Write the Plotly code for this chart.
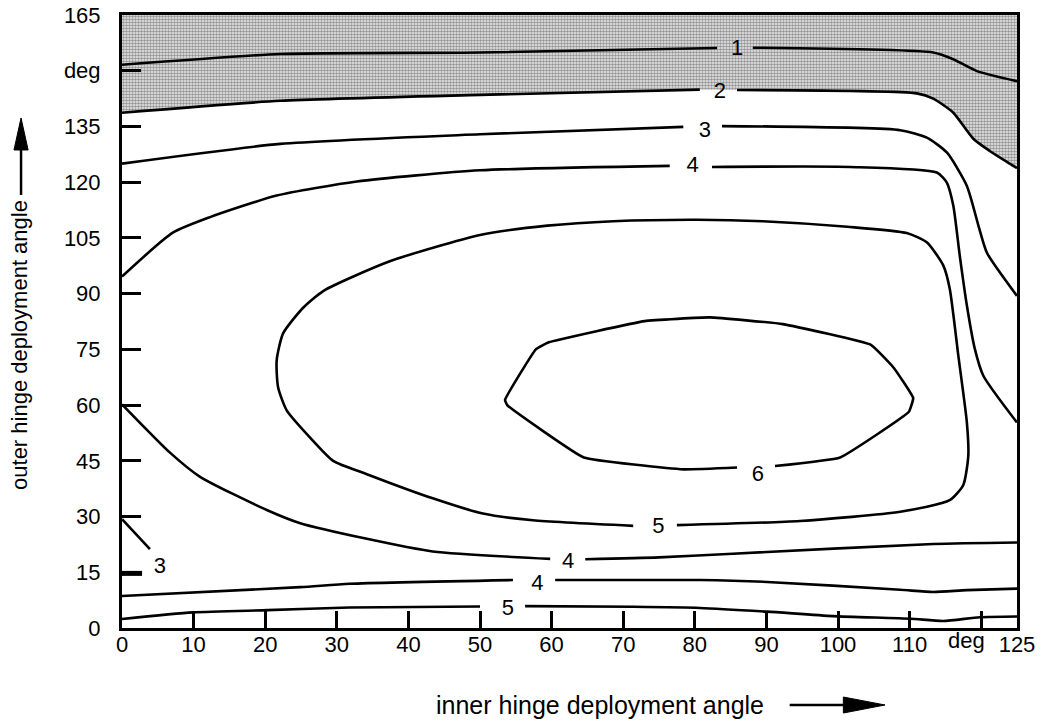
import plotly.graph_objects as go

# ---- data: contour lines (x = inner hinge angle, y = outer hinge angle, deg); None = gap for label
c1_x = [0, 22.1, 50, 83.1, None, 88.1, 113.3, 116.1, 119.4, 125]
c1_y = [151.6, 154.5, 154.9, 156.1, None, 156.2, 154.9, 153.1, 149.9, 147.2]

c2_x = [0, 22.1, 50, 80.7, None, 85.9, 111, 113.3, 116.1, 118.9, 121.2, 125]
c2_y = [138.7, 141.9, 143.5, 144.9, None, 144.8, 143.9, 142.5, 138.7, 131.7, 128.4, 123.8]

c3_x = [0, 22.1, 50, 78.4, None, 83.8, 108.7, 112.4, 115.2, 118, 119.7, 120.8, 125]
c3_y = [125, 130.3, 132.9, 134.9, None, 135.1, 134, 132, 128, 119, 107.7, 101, 89.4]

c4_upper_x = [0, 7.1, 12.3, 21.6, 32.8, 50, 76.5, None, 82.4, 101.7, 113.8, 115.2, 116.1, 117, 118, 119.1, 120.3, 125]
c4_upper_y = [94.6, 106.4, 110.6, 116.4, 120.2, 123.2, 124.4, None, 124.1, 124.1, 122.6, 119.9, 113.7, 100.3, 86.8, 75.2, 67.9, 55.3]

c5_loop_x = [77.5, 94.7, 108.7, 115.6, 117.5, 118.2, 118, 116.8, 115.6, 114.7, 112.4, 109.6, 101.3, 89.5, 80.3,
             68.6, 59.4, 50, 37.4, 28.1, 25.3, 22.5, 21.6, 21.8, 23, 26.3, 29.5, 34.2, 43.4, 50.4, 57.4, 71.4]
c5_loop_y = [27.7, 28.8, 31.3, 34.4, 38.5, 46.4, 55.3, 73.4, 91.4, 97.6, 103.8, 106.3, 108, 109.5, 109.9,
             109.5, 108.3, 105.8, 98.7, 90.7, 86.2, 79.3, 72, 64.8, 58.6, 51.2, 45, 41.4, 34.9, 30.8, 29, 27.5]

c6_loop_x = [91.2, 100.3, 109.9, 110.5, 107.8, 104.6, 92.3, 82.1, 73, 59.6, 57.8, 53.5, 53.8, 64.5, 78.4, 85.9]
c6_loop_y = [43.6, 45.9, 58.2, 61.9, 70.0, 76.2, 81.8, 83.6, 82.6, 76.9, 75.0, 61.4, 60.0, 45.9, 42.7, 43.2]

c4_mid_x = [0, 6.7, 10.9, 20.3, 24.9, 34.2, 43.4, 59.8, None, 64.7, 75, 85.3, 113.3, 125]
c4_mid_y = [60.2, 47.2, 40.7, 31.7, 28.2, 24, 20.6, 18.6, None, 18.5, 19.0, 20.0, 22.6, 23]

c4_low_x = [0, 24.9, 31.8, 54.6, None, 60.5, 80.7, 90.1, 108.7, 113.3, 118, 125]
c4_low_y = [8.6, 11, 11.9, 12.9, None, 12.9, 12.9, 12.4, 10.3, 9.7, 10.2, 10.6]

c5_low_x = [0, 9.9, 20.3, 31.8, 50, None, 56.3, 71.4, 80.7, 90.1, 99.3, 110.1, 114.7, 119.8, 125]
c5_low_y = [2.4, 4.2, 4.8, 5.5, 5.8, None, 5.9, 5.7, 5.4, 4.4, 3.2, 2.5, 1.9, 2.9, 3.1]

c3_short_x = [0, 3.9]
c3_short_y = [29.3, 21.2]

stub_x = [0, 2.8]
stub_y = [14.7, 14.7]

label_text = ["1", "2", "3", "4", "5", "6", "4", "4", "5", "3"]
label_x = [85.9, 83.5, 81.4, 79.7, 74.9, 88.8, 62.3, 58.0, 53.9, 5.3]
label_y = [155.8, 144.2, 133.6, 124.2, 27.0, 41.0, 17.7, 11.8, 4.9, 16.4]

x_tickvals = [0, 10, 20, 30, 40, 50, 60, 70, 80, 90, 100, 110, 120, 125]
x_ticktext = ["0", "10", "20", "30", "40", "50", "60", "70", "80", "90", "100", "110", "", "125"]
x_unit_label = "deg"
x_unit_pos = 117.9
y_tickvals = [0, 15, 30, 45, 60, 75, 90, 105, 120, 135, 150, 165]
y_ticktext = ["0", "15", "30", "45", "60", "75", "90", "105", "120", "135", "deg", "165"]

X_MAX, Y_MAX = 125, 165
FONT = "Liberation Sans, Arial, Helvetica, sans-serif"
LW = 2.6
TICK_FS = 22

fig = go.Figure()

# shaded region above contour 2
shade_x = [v for v in c2_x if v is not None] + [X_MAX, 0]
shade_y = [v for v in c2_y if v is not None] + [Y_MAX, Y_MAX]
fig.add_trace(go.Scatter(
    x=shade_x, y=shade_y, mode="lines", fill="toself", line=dict(width=0, shape="spline", smoothing=0.6),
    fillcolor="rgba(0,0,0,0)",
    fillpattern=dict(shape=".", size=3, solidity=0.55, fgcolor="#3c3c3c", bgcolor="#ececec"),
    hoverinfo="skip", showlegend=False))

smooth_lines = [(c1_x, c1_y), (c2_x, c2_y), (c3_x, c3_y), (c4_upper_x, c4_upper_y),
                (c5_loop_x, c5_loop_y), (c4_mid_x, c4_mid_y),
                (c4_low_x, c4_low_y), (c5_low_x, c5_low_y)]
for xs, ys in smooth_lines:
    fig.add_trace(go.Scatter(x=xs, y=ys, mode="lines",
                             line=dict(color="black", width=LW, shape="spline", smoothing=0.6),
                             connectgaps=False, showlegend=False, hoverinfo="skip"))

for xs, ys in [(c6_loop_x, c6_loop_y), (c3_short_x, c3_short_y)]:
    fig.add_trace(go.Scatter(x=xs, y=ys, mode="lines",
                             line=dict(color="black", width=LW, shape="spline", smoothing=0.3),
                             connectgaps=False, showlegend=False, hoverinfo="skip"))

fig.add_trace(go.Scatter(x=stub_x, y=stub_y, mode="lines", line=dict(color="black", width=5),
                         showlegend=False, hoverinfo="skip"))

fig.add_trace(go.Scatter(x=label_x, y=label_y, mode="text", text=label_text,
                         textfont=dict(family=FONT, size=22, color="black"),
                         showlegend=False, hoverinfo="skip"))

axis_common = dict(showgrid=False, zeroline=False, showline=True, mirror=True, automargin=False,
                   linecolor="black", linewidth=3, ticks="inside", tickwidth=2.5,
                   tickcolor="black", tickfont=dict(family=FONT, size=TICK_FS, color="black"))

fig.update_xaxes(range=[0, X_MAX], tickvals=x_tickvals, ticktext=x_ticktext, ticklen=17,
                 tickangle=0, ticklabelstandoff=-5, **axis_common)
fig.update_yaxes(range=[0, Y_MAX], tickvals=y_tickvals, ticktext=y_ticktext, ticklen=19,
                 ticklabelstandoff=14, **axis_common)

fig.add_annotation(xref="x", yref="paper", x=x_unit_pos, y=0.003, text=x_unit_label,
                   showarrow=False, font=dict(family=FONT, size=TICK_FS, color="black"),
                   xanchor="center", yanchor="top")

# axis titles with arrows
fig.add_annotation(xref="paper", yref="paper", x=0.534, y=-0.1256, text="inner hinge deployment angle",
                   showarrow=False, font=dict(family=FONT, size=25, color="black"),
                   xanchor="center", yanchor="middle")
fig.add_annotation(xref="paper", yref="paper", x=-0.114, y=0.4617, text="outer hinge deployment angle",
                   showarrow=False, textangle=-90, font=dict(family=FONT, size=22, color="black"),
                   xanchor="center", yanchor="middle")

# x arrow
fig.add_shape(type="line", xref="paper", yref="paper", x0=0.746, x1=0.81, y0=-0.1256, y1=-0.1256,
              line=dict(color="black", width=2.5))
fig.add_shape(type="path", xref="paper", yref="paper",
              path="M 0.806 -0.1126 L 0.8525 -0.1256 L 0.806 -0.1387 Z",
              fillcolor="black", line=dict(color="black", width=1))
# y arrow
fig.add_shape(type="line", xref="paper", yref="paper", x0=-0.1128, x1=-0.1128, y0=0.7064, y1=0.785,
              line=dict(color="black", width=2.5))
fig.add_shape(type="path", xref="paper", yref="paper",
              path="M -0.1207 0.7798 L -0.1128 0.832 L -0.1049 0.7798 Z",
              fillcolor="black", line=dict(color="black", width=1))

fig.update_layout(width=1050, height=721, plot_bgcolor="white", paper_bgcolor="white",
                  margin=dict(l=122, r=33, t=15, b=93), showlegend=False,
                  font=dict(family=FONT, color="black"))

fig.write_html("out.html", config={"displayModeBar": False},
               post_script="document.body.style.margin='0';document.body.style.padding='0';"
                           "document.body.style.overflow='hidden';")
